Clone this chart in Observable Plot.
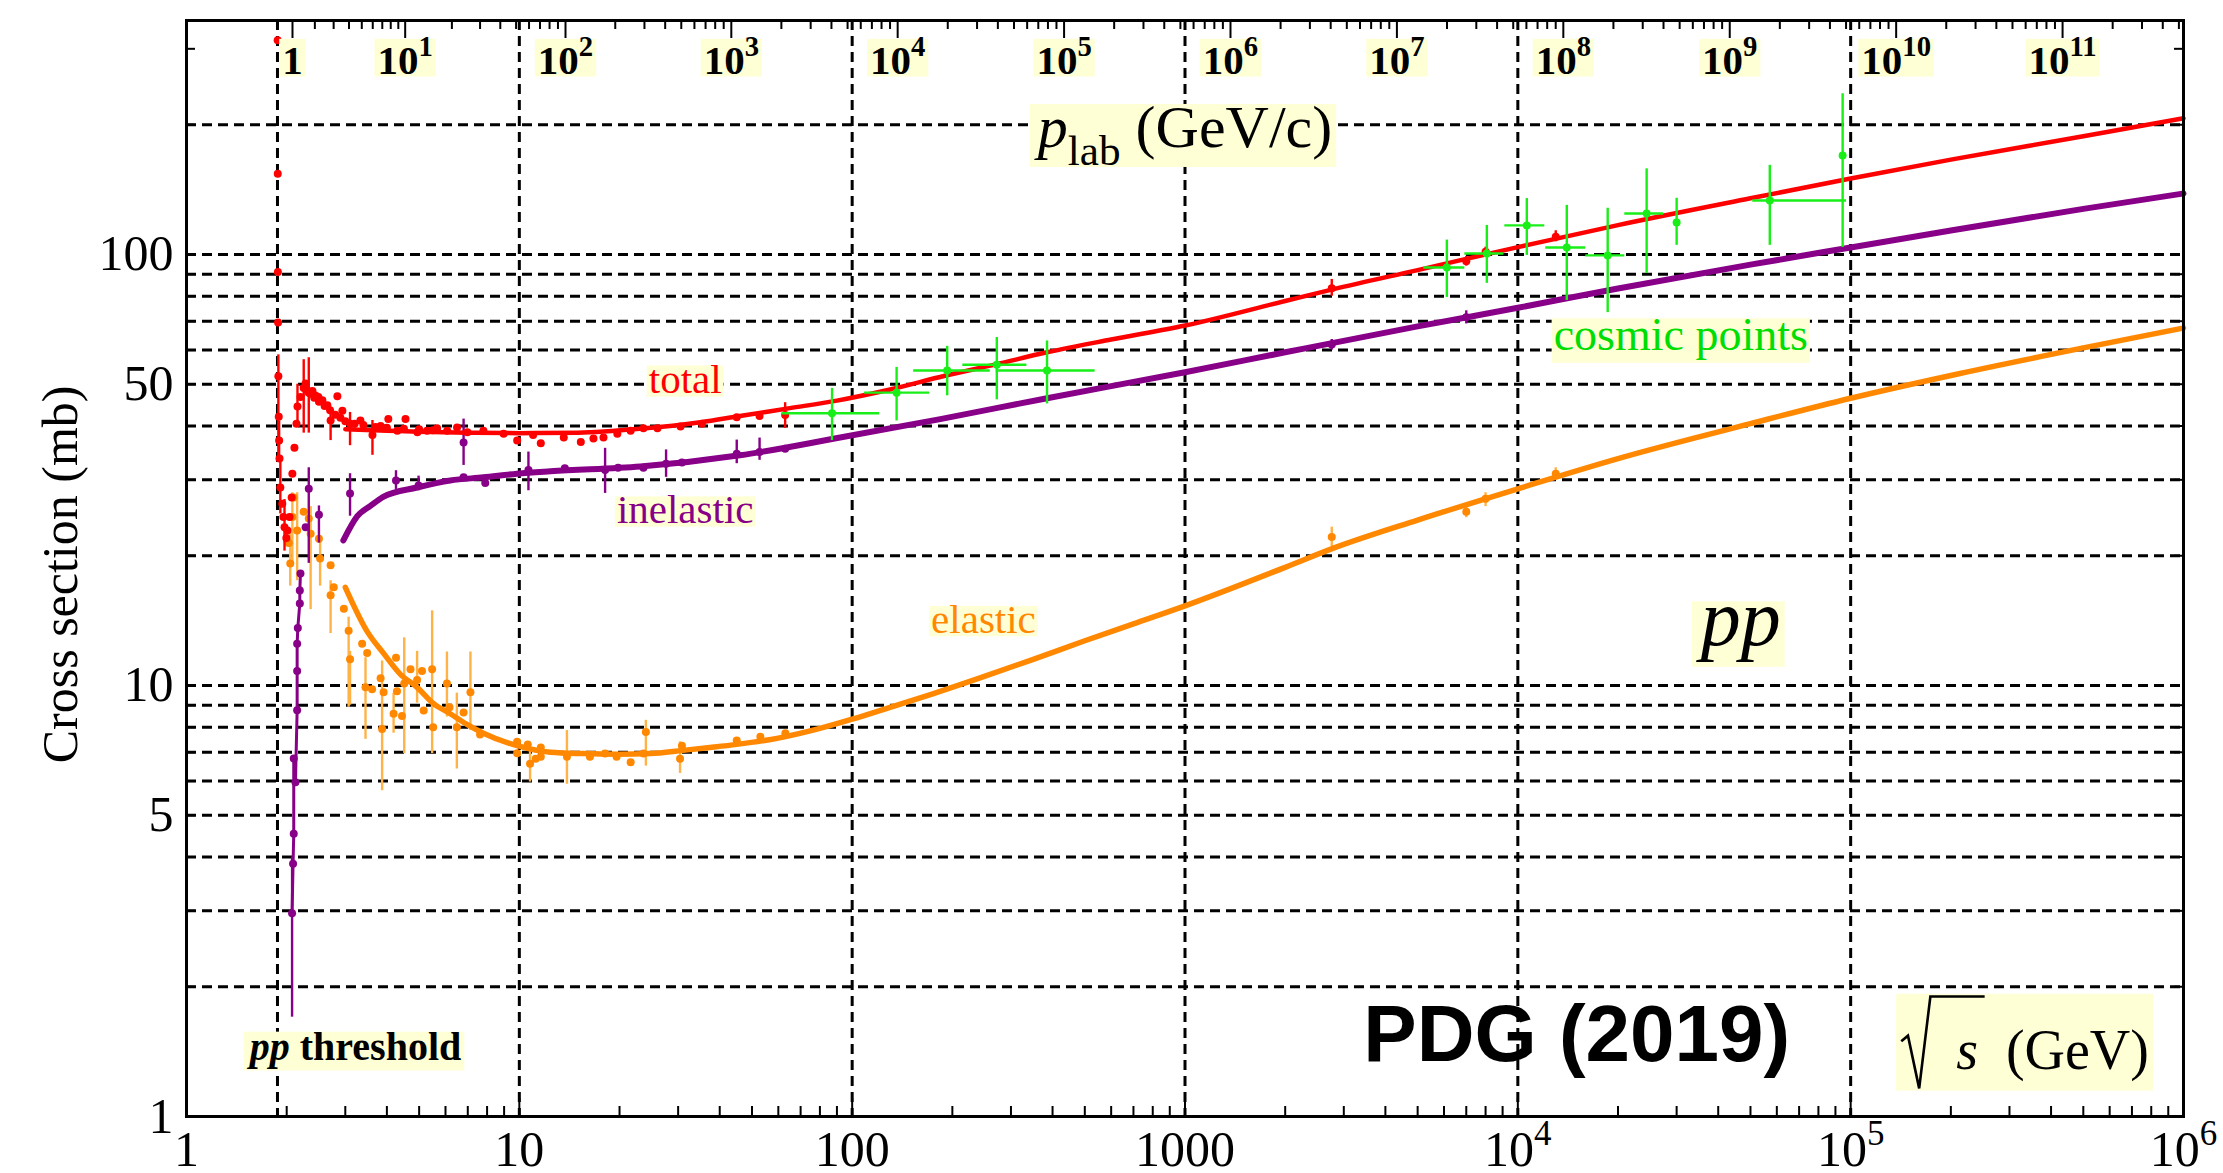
<!DOCTYPE html>
<html><head><meta charset="utf-8">
<script src="https://cdn.jsdelivr.net/npm/d3@7"></script>
<script src="https://cdn.jsdelivr.net/npm/@observablehq/plot@0.6"></script>
<style>body{margin:0;background:#fff} svg{display:block}</style>
</head><body><div id="chart"></div>
<script>
// ---------- data (sqrt(s) in GeV, sigma in mb) ----------
const MP = 0.938272;
const threshold = 2 * MP;

// fits: [sqrt s, sigma]
const totalFit = [[3.0,39.3],[4,39.0],[5,38.8],[7,38.6],[10,38.5],[15,38.6],[23,39.4],[35,40.8],[46,42.2],[65,44.0],[90,45.8],[130,48.6],[190,52.3],[270,55.6],[385,59.3],[600,63.5],[1000,68.4],[2000,78],[2780,83],[5000,92],[1e4,104],[2e4,117],[5e4,135],[1e5,150],[2e5,166],[5e5,188],[1e6,207]];
const inelasticFit = [[2.96,21.7],[3.26,24.7],[3.57,26.1],[3.9,27.4],[4.93,28.8],[6.2,29.9],[7.8,30.4],[9.85,31.0],[12.4,31.4],[23.1,32.2],[46,34.2],[92,37.6],[184,41.5],[385,46.4],[1000,53.3],[2000,59.3],[5000,68.1],[1e4,75.2],[2e4,83.4],[5e4,94.7],[1e5,103.8],[2e5,113.7],[5e5,127.6],[1e6,138.5]];
const elasticFit = [[3.0,16.9],[3.5,13.3],[3.9,11.9],[4.4,10.6],[4.93,9.9],[5.5,9.1],[6.2,8.6],[7.0,8.1],[7.8,7.75],[9.85,7.25],[12.4,7.0],[15.6,6.95],[19.7,6.93],[24.8,6.95],[31,7.07],[37.4,7.18],[45,7.3],[60,7.55],[80,7.95],[100,8.35],[130,8.9],[170,9.5],[241,10.4],[350,11.5],[500,12.7],[700,13.9],[1000,15.3],[2000,18.8],[2780,20.8],[5000,24.2],[1e4,28.6],[2e4,33.6],[5e4,40.5],[1e5,46.4],[2e5,52.4],[5e5,60.7],[1e6,67.5]];

// data points: [sqrt s, sigma, sigma_low, sigma_high]
const totalData = [[1.879,314,null,null],[1.880,154,null,null],[1.882,91,null,null],[1.884,69.5,null,null],[1.888,52.2,33,58.5],[1.893,42,null,null],[1.898,37,33,41],[1.903,33.6,null,null],[1.914,28.8,25,33],[1.94,26.4,null,null],[1.955,24.6,null,null],[1.97,23.3,20.5,27],[1.995,22.0,null,null],[2.01,22.9,null,null],[2.04,24.6,null,null],[2.07,27.3,null,null],[2.08,31,null,null],[2.11,35.6,null,null],[2.14,40.5,null,null],[2.155,44.4,40,50],[2.2,46.7,null,null],[2.25,49,38.5,57],[2.28,50.2,null,null],[2.3,48.5,null,null],[2.33,47.8,38.5,57.6],[2.36,47.5,null,null],[2.39,48.2,null,null],[2.42,46.5,null,null],[2.44,47.1,null,null],[2.49,46.7,null,null],[2.5,45.5,null,null],[2.56,45.9,null,null],[2.6,44.5,null,null],[2.65,44.7,null,null],[2.7,43.5,null,null],[2.71,41.2,37,44],[2.8,42.5,null,null],[2.84,46.9,null,null],[2.9,41.8,null,null],[2.94,43.4,null,null],[3.0,41,null,null],[3.1,40.5,36,43],[3.2,40.5,null,null],[3.33,41.2,null,null],[3.4,40.2,null,null],[3.62,38.1,34.2,41.2],[3.7,39.8,null,null],[3.83,40.0,null,null],[4.0,39.6,null,null],[4.04,41.5,null,null],[4.3,39.0,null,null],[4.5,39.4,null,null],[4.55,41.5,null,null],[4.94,38.7,null,null],[5.0,39.3,null,null],[5.28,39.0,null,null],[5.5,39.1,null,null],[5.66,39.5,null,null],[6.07,39.0,null,null],[6.5,39.7,null,null],[6.98,38.7,null,null],[7.8,39.0,null,null],[8.97,38.4,null,null],[9.85,37.0,null,null],[11.0,38.1,null,null],[11.6,36.5,null,null],[13.6,37.6,null,null],[15.3,36.7,null,null],[16.7,37.4,null,null],[17.9,37.6,null,null],[19.7,38.4,null,null],[21.6,39,null,null],[23.6,39.5,null,null],[26.0,39.5,null,null],[30.5,39.9,null,null],[35.4,40.5,null,null],[45.0,41.9,null,null],[52.7,42.2,null,null],[62.9,42.4,39.5,45.3],[2760,83.5,80,87.5],[7000,96.5,94,99],[8000,101.5,98.5,104],[13000,110,107,113.5]];
const inelasticData = [[2.076,2.96,1.7,4.0],[2.09,3.86,null,null],[2.10,4.53,null,null],[2.10,6.77,null,null],[2.125,5.96,null,null],[2.15,8.76,null,null],[2.15,10.8,null,null],[2.15,12.5,null,null],[2.16,13.6,null,null],[2.19,15.5,null,null],[2.19,16.6,null,null],[2.2,18.2,null,null],[2.28,23.3,null,null],[2.33,28.6,19.2,32],[2.5,24.9,21.4,26.1],[3.1,27.9,24.7,31],[4.26,29.9,28.5,31.5],[4.98,29.1,28.3,30.6],[6.8,36.6,32.4,41.5],[6.8,30.4,null,null],[7.9,29.5,null,null],[10.65,31.6,28.3,34.8],[13.7,31.9,null,null],[18.1,31.6,27.9,35.5],[19.8,32.0,null,null],[23.6,32.0,null,null],[27.6,32.7,30.4,35.2],[30.8,32.9,null,null],[45,34.5,32.7,37.1],[52.7,34.8,33.3,37.5],[62.9,35.4,null,null],[2760,61.8,60,63.5],[7000,71.5,69,74]];
const elasticData = [[2.03,21.4,null,null],[2.05,19.2,17,23],[2.08,24.6,19,28],[2.10,27.3,null,null],[2.15,22.9,17.5,28],[2.25,25.3,null,null],[2.33,24.4,null,null],[2.36,22.5,15,26],[2.50,21.9,null,null],[2.52,19.7,17,21.5],[2.71,19.0,null,null],[2.77,16.9,null,null],[2.71,16.2,13.2,17.5],[2.97,15.07,null,null],[3.07,13.4,8.9,14.4],[3.10,11.5,9.0,12.0],[3.37,12.5,null,null],[3.45,9.9,7.5,11.6],[3.49,11.9,null,null],[3.61,9.8,null,null],[3.83,10.4,null,null],[3.87,7.93,5.7,11.4],[3.91,9.65,null,null],[4.19,8.6,7.75,9.6],[4.26,11.6,null,null],[4.29,9.7,null,null],[4.44,8.5,null,null],[4.51,10.1,6.95,12.9],[4.71,10.9,null,null],[4.93,10.3,9.1,12.0],[5.10,10.8,null,null],[5.16,8.75,null,null],[5.47,10.9,6.95,14.9],[5.51,8.0,null,null],[6.06,10.1,8.45,11.96],[6.17,8.9,null,null],[6.49,8.0,6.4,9.6],[6.80,8.66,null,null],[7.13,9.65,7.86,11.96],[7.62,7.7,null,null],[9.85,7.4,null,null],[9.85,6.96,null,null],[10.6,7.3,null,null],[10.77,6.58,5.97,7.18],[11.2,6.76,null,null],[11.6,7.18,null,null],[11.6,6.83,null,null],[13.9,6.83,5.9,7.86],[16.3,6.83,null,null],[18.1,6.95,null,null],[19.6,6.83,null,null],[21.6,6.64,null,null],[23.6,6.95,null,null],[24.0,7.8,6.5,8.3],[30.4,6.76,6.25,7.4],[30.8,7.25,null,null],[45,7.45,null,null],[53,7.6,null,null],[63,7.75,null,null],[2760,22.1,21,23.3],[7000,25.3,24.5,26.2],[8000,27.1,26,28],[13000,31.0,30,32]];
// cosmic: [sqrt s, sigma, sigma_low, sigma_high, sqrt s low, sqrt s high]
const cosmicData = [[87,42.8,37.0,48.9,61.6,121],[136,47.8,41.1,54.7,109,171],[193,53.8,47,61.2,153,260],[272,55.5,46,64.2,215,335],[385,53.8,45,63,271,537],[6120,93.3,79.5,108,5220,6930],[8070,100.5,85.7,116.8,6930,9080],[10640,116.8,99.5,134.8,9140,12050],[14030,103.8,78.2,130,12130,16000],[18620,99.5,73.3,128,16000,20960],[24380,124.5,90.4,158,20960,27430],[30000,118.6,105,135,null,null],[57150,133.4,105,161,50800,97200],[94600,169.7,103.8,236,null,null]];

// axes / ticks
const xTickValues = [1, 10, 100, 1000, 1e4, 1e5, 1e6];
const xTickLabels = ["1", "10", "100", "1000", "10^{4}", "10^{5}", "10^{6}"];
const yTickValues = [1, 5, 10, 50, 100];
const yTickLabels = ["1", "5", "10", "50", "100"];
const yGrid = [2,3,4,5,6,7,8,9,10,20,30,40,50,60,70,80,90,100,200];
const yMinorTicks = [2,3,4,5,6,7,8,9,20,30,40,50,60,70,80,90,200,300];
const xGrid = [threshold, 10, 100, 1000, 1e4, 1e5];
const plabTicks = [1,1e1,1e2,1e3,1e4,1e5,1e6,1e7,1e8,1e9,1e10,1e11];
const plabLabels = ["1","10^{1}","10^{2}","10^{3}","10^{4}","10^{5}","10^{6}","10^{7}","10^{8}","10^{9}","10^{10}","10^{11}"];
const yTitle = "Cross section (mb)";

// annotations: text, x (sqrt s), y (mb)
const annotations = [
  {key:"a-total", text:"total", x:31.5, y:51.3, fill:"#ff0000", size:41},
  {key:"a-inel", text:"inelastic", x:31.5, y:25.5, fill:"#870087", size:41},
  {key:"a-el", text:"elastic", x:248, y:14.2, fill:"#ff8800", size:41},
  {key:"a-cosmic", text:"cosmic points", x:30870, y:64.8, fill:"#00dd00", size:46},
  {key:"a-pp", text:"*pp*", x:46740, y:14.2, fill:"#000", size:80},
  {key:"a-thr", text:"*pp* threshold", x:3.22, y:1.446, fill:"#000", size:40, weight:"bold"},
  {key:"a-plab", text:"*p*_{lab} (GeV/c)", x:1000, y:196.7, fill:"#000", size:60},
  {key:"a-sqrts", text:"\u2003~{s}  (GeV)", x:333000, y:1.415, fill:"#000", size:56},
  {key:"n-pdg", text:"PDG (2019)", x:15030, y:1.546, fill:"#000", size:80, weight:"bold", family:"Liberation Sans, Arial, sans-serif"}
];
// background box spec: [above baseline, below baseline] in em, padX px
const boxSpec = {
  "a-total":[0.66,0.1,2], "a-inel":[0.66,0.08,2], "a-el":[0.66,0.08,2], "a-cosmic":[0.7,0.27,2],
  "a-pp":[0.55,0.27,4], "a-thr":[0.72,0.25,3], "a-plab":[0.72,0.33,4], "a-sqrts":[1.35,0.38,4], "a-top":[0.85,0.07,3]
};

// ---------- chart ----------
const W = 2223, H = 1173, mL = 186, mR = 40, mT = 20, mB = 57;
const innerW = W - mL - mR, innerH = H - mT - mB;
const sqrtS = p => Math.sqrt(2*MP*MP + 2*MP*Math.sqrt(p*p + MP*MP));
const xMinor = [], topMinor = [];
for (let n = 0; n < 6; n++) for (let k = 2; k <= 9; k++) xMinor.push(k * 10 ** n);
for (let n = 0; n <= 11; n++) for (let k = 2; k <= 9; k++) { const p = k * 10 ** n; if (sqrtS(p) <= 1e6) topMinor.push(p); }

const RED = "#ff0000", PUR = "#870087", ORA = "#ff8800", ORA2 = "#ffb347", GRN = "#19ee19";
const serif = "Liberation Serif, Times New Roman, serif";
const grid = {stroke: "#000", strokeWidth: 3, strokeDasharray: "10,6"};
const X = d => d[0], Y = d => d[1];
const withErr = a => a.filter(d => d[2] != null);

const marks = [
  Plot.ruleY(yGrid, {y: d => d, ...grid}),
  Plot.ruleX(xGrid, {x: d => d, ...grid}),
  Plot.ruleX(xMinor, {x: d => d, insetTop: innerH - 10, stroke: "#000", strokeWidth: 2}),
  Plot.ruleX(xTickValues, {x: d => d, insetTop: innerH - 18, stroke: "#000", strokeWidth: 2}),
  Plot.ruleX(topMinor, {x: p => sqrtS(p), insetBottom: innerH - 9, stroke: "#000", strokeWidth: 2}),
  Plot.ruleX(plabTicks, {x: p => sqrtS(p), insetBottom: innerH - 18, stroke: "#000", strokeWidth: 2}),
  Plot.ruleY(yMinorTicks, {y: d => d, insetRight: innerW - 9, stroke: "#000", strokeWidth: 2}),
  Plot.ruleY(yMinorTicks, {y: d => d, insetLeft: innerW - 9, stroke: "#000", strokeWidth: 2}),
  // elastic
  Plot.ruleX(withErr(elasticData), {x: X, y1: d => d[2], y2: d => d[3], stroke: ORA2, strokeWidth: 2.4}),
  Plot.dot(elasticData, {x: X, y: Y, r: 4, fill: ORA}),
  Plot.line(elasticFit, {x: X, y: Y, stroke: ORA, strokeWidth: 5.5, curve: "monotone-x"}),
  // inelastic
  Plot.line(inelasticData.filter(d => d[0] < 2.21), {x: X, y: Y, stroke: PUR, strokeWidth: 3}),
  Plot.ruleX(withErr(inelasticData), {x: X, y1: d => d[2], y2: d => d[3], stroke: PUR, strokeWidth: 2.4}),
  Plot.dot(inelasticData, {x: X, y: Y, r: 4, fill: PUR}),
  Plot.line(inelasticFit, {x: X, y: Y, stroke: PUR, strokeWidth: 6, curve: "monotone-x"}),
  // total
  Plot.ruleX(withErr(totalData), {x: X, y1: d => d[2], y2: d => d[3], stroke: RED, strokeWidth: 2.4}),
  Plot.dot(totalData, {x: X, y: Y, r: 4, fill: RED}),
  Plot.line(totalFit, {x: X, y: Y, stroke: RED, strokeWidth: 4.5, curve: "monotone-x"}),
  // cosmic
  Plot.ruleX(cosmicData, {x: X, y1: d => d[2], y2: d => d[3], stroke: GRN, strokeWidth: 2.4}),
  Plot.ruleY(cosmicData.filter(d => d[4] != null), {y: Y, x1: d => d[4], x2: d => d[5], stroke: GRN, strokeWidth: 2.4}),
  Plot.dot(cosmicData, {x: X, y: Y, r: 4, fill: GRN}),
  // tick labels
  Plot.text(xTickValues, {x: d => d, text: (d, i) => xTickLabels[i], frameAnchor: "bottom", lineAnchor: "top", dy: 14, fontSize: 50, fontFamily: serif, fill: "#000"}),
  Plot.text(yTickValues, {y: d => d, text: (d, i) => yTickLabels[i], frameAnchor: "left", textAnchor: "end", lineAnchor: "middle", dx: -13, fontSize: 50, fontFamily: serif, fill: "#000"}),
  Plot.text(plabTicks, {x: p => sqrtS(p), text: (d, i) => plabLabels[i], frameAnchor: "top", lineAnchor: "middle", dy: 40, fontSize: 41, fontWeight: "bold", fontFamily: serif, fill: "#000", ariaDescription: "a-top"}),
  Plot.text([yTitle], {text: d => d, y: () => 18.1, frameAnchor: "left", rotate: -90, dx: -126, textAnchor: "middle", lineAnchor: "middle", fontSize: 50, fontFamily: serif, fill: "#000"}),
  ...annotations.map(a => Plot.text([a], {x: d => d.x, y: d => d.y, text: d => d.text, lineAnchor: "middle", fontSize: a.size, fontWeight: a.weight || "normal", fontFamily: a.family || serif, fill: a.fill, ariaDescription: a.key})),
  Plot.frame({stroke: "#000", strokeWidth: 3})
];

const chart = Plot.plot({
  width: W, height: H, marginLeft: mL, marginRight: mR, marginTop: mT, marginBottom: mB,
  x: {type: "log", domain: [1, 1e6], axis: null},
  y: {type: "log", domain: [1, 349], axis: null},
  style: {background: "#fff", overflow: "visible"},
  marks
});
document.getElementById("chart").append(chart);

// ---------- rich text (super/subscripts, italics, radicand) ----------
const SVGNS = "http://www.w3.org/2000/svg";
function richify(el) {
  const s = el.textContent;
  if (!/[\^_~]\{|\*/.test(s)) return;
  const fs = parseFloat(getComputedStyle(el).fontSize);
  el.textContent = "";
  const re = /(\^\{[^}]*\}|_\{[^}]*\}|~\{[^}]*\}|\*[^*]*\*)/g;
  let shift = 0;
  for (const part of s.split(re)) {
    if (!part) continue;
    const ts = document.createElementNS(SVGNS, "tspan");
    let txt = part, target = 0, size = null;
    if (part.startsWith("^{")) { txt = part.slice(2, -1); target = -0.42 * fs; size = 0.7 * fs; }
    else if (part.startsWith("_{")) { txt = part.slice(2, -1); target = 0.3 * fs; size = 0.72 * fs; }
    else if (part.startsWith("~{")) { txt = part.slice(2, -1); ts.style.fontStyle = "italic"; ts.setAttribute("data-rad", "1"); }
    else if (part.startsWith("*")) { txt = part.slice(1, -1); ts.style.fontStyle = "italic"; }
    const dy = target - shift; shift = target;
    if (dy) ts.setAttribute("dy", dy);
    if (size) ts.setAttribute("font-size", size);
    ts.textContent = txt.replace(/ /g, "\u00a0");
    el.appendChild(ts);
  }
}
d3.select(chart).selectAll("text").each(function () { richify(this); });

// radical sign drawn around the radicand
d3.select(chart).selectAll("text").each(function () {
  const rad = this.querySelector("tspan[data-rad]");
  if (!rad) return;
  let idx = 0;
  for (const c of this.childNodes) { if (c === rad) break; idx += c.textContent.length; }
  const ext = this.getExtentOfChar(idx);
  const last = this.getExtentOfChar(idx + rad.textContent.length - 1);
  const fs = parseFloat(getComputedStyle(this).fontSize);
  const b = ext.y + ext.height * (0.891 / 1.107);
  const sx = ext.x, ex = last.x + last.width;
  const p = document.createElementNS(SVGNS, "path");
  p.setAttribute("d", `M${sx - 0.98*fs},${b - 0.5*fs} L${sx - 0.86*fs},${b - 0.6*fs} L${sx - 0.66*fs},${b + 0.34*fs} L${sx - 0.46*fs},${b - 1.3*fs} L${ex + 0.12*fs},${b - 1.3*fs}`);
  p.setAttribute("fill", "none");
  p.setAttribute("stroke", "#000");
  p.setAttribute("stroke-width", 2.6);
  p.setAttribute("stroke-linejoin", "miter");
  const tr = this.getAttribute("transform");
  if (tr) p.setAttribute("transform", tr);
  this.parentNode.insertBefore(p, this.nextSibling);
});

// ---------- pale yellow label boxes ----------
d3.select(chart).selectAll("g[aria-description]").each(function () {
  const spec = boxSpec[this.getAttribute("aria-description")];
  if (!spec) return;
  const [up, down, padX] = spec;
  d3.select(this).selectAll("text").each(function () {
    const ext = this.getExtentOfChar(0);
    const fs = parseFloat(getComputedStyle(this).fontSize);
    const baseline = ext.y + ext.height * (0.891 / 1.107);
    const bb = this.getBBox();
    const r = document.createElementNS(SVGNS, "rect");
    r.setAttribute("x", bb.x - padX);
    r.setAttribute("width", bb.width + 2 * padX);
    r.setAttribute("y", baseline - up * fs);
    r.setAttribute("height", (up + down) * fs);
    r.setAttribute("fill", "#ffffd6");
    r.setAttribute("stroke", "none");
    const tr = this.getAttribute("transform");
    if (tr) r.setAttribute("transform", tr);
    this.parentNode.insertBefore(r, this);
  });
});
</script></body></html>
